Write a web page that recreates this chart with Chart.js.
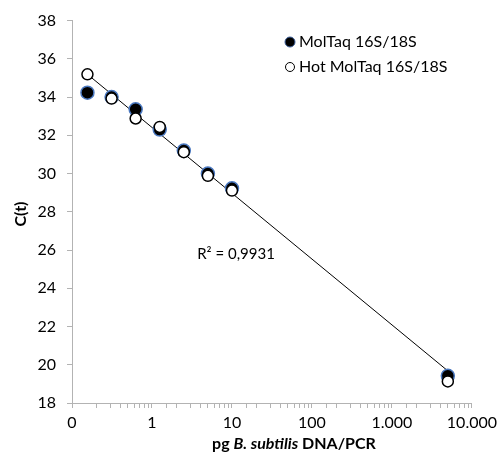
<!DOCTYPE html>
<html>
<head>
<meta charset="utf-8">
<script src="https://cdn.jsdelivr.net/npm/chart.js@4/dist/chart.umd.min.js"></script>
<style>
  html, body { margin: 0; padding: 0; background: #fff; }
  #wrap { width: 502px; height: 458px; }
</style>
</head>
<body>
<div id="wrap"><canvas id="chart" width="502" height="458"></canvas></div>
<script>
// pg DNA per PCR (dilution series)
const dnaAmounts = [0.156, 0.3125, 0.625, 1.25, 2.5, 5, 10, 5000];
// C(t) values
const molTaq = [34.23, 34.0, 33.36, 32.3, 31.2, 30.0, 29.23, 19.42];
const hotMolTaq = [35.19, 33.92, 32.88, 32.44, 31.12, 29.88, 29.11, 19.13];
// trendline ends
const trendX = [0.156, 5000];
const trendY = [35.19, 19.68];
const yTicks = [18, 20, 22, 24, 26, 28, 30, 32, 34, 36, 38];
const xLabels = { 0.1: '0', 1: '1', 10: '10', 100: '100', 1000: '1.000', 10000: '10.000' };
const rSquared = 'R² = 0,9931';

const FONT = "Lato, 'Open Sans', sans-serif";
const axisGray = '#b3b3b3';

const toPoints = (xs, ys) => xs.map((x, i) => ({ x: x, y: ys[i] }));

// extra texts: axis titles, legend and R²
const textPlugin = {
  id: 'texts',
  afterDraw(chart) {
    const ctx = chart.ctx;
    ctx.save();
    ctx.fillStyle = '#000';
    ctx.textBaseline = 'middle';

    // y title
    ctx.save();
    ctx.translate(21, 214);
    ctx.rotate(-Math.PI / 2);
    ctx.textAlign = 'center';
    ctx.font = 'bold 16px ' + FONT;
    ctx.fillText('C(t)', 0, 0);
    ctx.restore();

    // x title with italic part
    const parts = [
      { t: 'pg ', f: 'bold 16px ' + FONT },
      { t: 'B. subtilis', f: 'italic bold 16px ' + FONT },
      { t: ' DNA/PCR', f: 'bold 16px ' + FONT }
    ];
    let total = 0;
    parts.forEach(p => { ctx.font = p.f; p.w = ctx.measureText(p.t).width; total += p.w; });
    let x = 294 - total / 2;
    ctx.textAlign = 'left';
    parts.forEach(p => { ctx.font = p.f; ctx.fillText(p.t, x, 444); x += p.w; });

    // R²
    ctx.font = '15px ' + FONT;
    ctx.textAlign = 'center';
    ctx.fillText(rSquared, 236, 254);

    // legend
    ctx.textAlign = 'left';
    ctx.font = '16px ' + FONT;
    ctx.beginPath();
    ctx.arc(290, 42, 5, 0, Math.PI * 2);
    ctx.fillStyle = '#000';
    ctx.fill();
    ctx.lineWidth = 1;
    ctx.strokeStyle = '#3d5f9a';
    ctx.stroke();
    ctx.fillStyle = '#000';
    ctx.fillText('MolTaq 16S/18S', 299, 42);

    ctx.beginPath();
    ctx.arc(290, 67, 4.5, 0, Math.PI * 2);
    ctx.fillStyle = '#fff';
    ctx.fill();
    ctx.strokeStyle = '#000';
    ctx.stroke();
    ctx.fillStyle = '#000';
    ctx.fillText('Hot MolTaq 16S/18S', 299, 67);
    ctx.restore();
  }
};

new Chart(document.getElementById('chart'), {
  type: 'scatter',
  data: {
    datasets: [
      {
        label: 'trend',
        type: 'line',
        data: toPoints(trendX, trendY),
        borderColor: '#000',
        borderWidth: 1,
        pointRadius: 0,
        fill: false,
        order: 3
      },
      {
        label: 'MolTaq 16S/18S',
        data: toPoints(dnaAmounts, molTaq),
        backgroundColor: '#000',
        borderColor: '#4a78c0',
        borderWidth: 1.5,
        pointRadius: 6.5,
        order: 2
      },
      {
        label: 'Hot MolTaq 16S/18S',
        data: toPoints(dnaAmounts, hotMolTaq),
        backgroundColor: '#fff',
        borderColor: '#000',
        borderWidth: 1.5,
        pointRadius: 5.5,
        order: 1
      }
    ]
  },
  options: {
    responsive: false,
    animation: false,
    layout: { padding: { top: 20, right: 28, left: 0, bottom: 0 } },
    plugins: { legend: { display: false }, tooltip: { enabled: false } },
    scales: {
      x: {
        type: 'logarithmic',
        min: 0.1,
        max: 10000,
        afterFit(scale) { scale.height = 55; },
        grid: { drawOnChartArea: false, color: axisGray, tickLength: 5 },
        border: { color: axisGray },
        ticks: {
          autoSkip: false,
          maxRotation: 0,
          padding: 5,
          color: '#000',
          font: { family: FONT, size: 16 },
          callback: v => (xLabels[v] !== undefined ? xLabels[v] : '')
        }
      },
      y: {
        min: 18,
        max: 38,
        afterBuildTicks(scale) { scale.ticks = yTicks.map(v => ({ value: v })); },
        afterFit(scale) { scale.width = 72; },
        grid: { drawOnChartArea: false, color: axisGray, tickLength: 5 },
        border: { color: axisGray },
        ticks: {
          padding: 11,
          color: '#000',
          font: { family: FONT, size: 16 }
        }
      }
    }
  },
  plugins: [textPlugin]
});
</script>
</body>
</html>
